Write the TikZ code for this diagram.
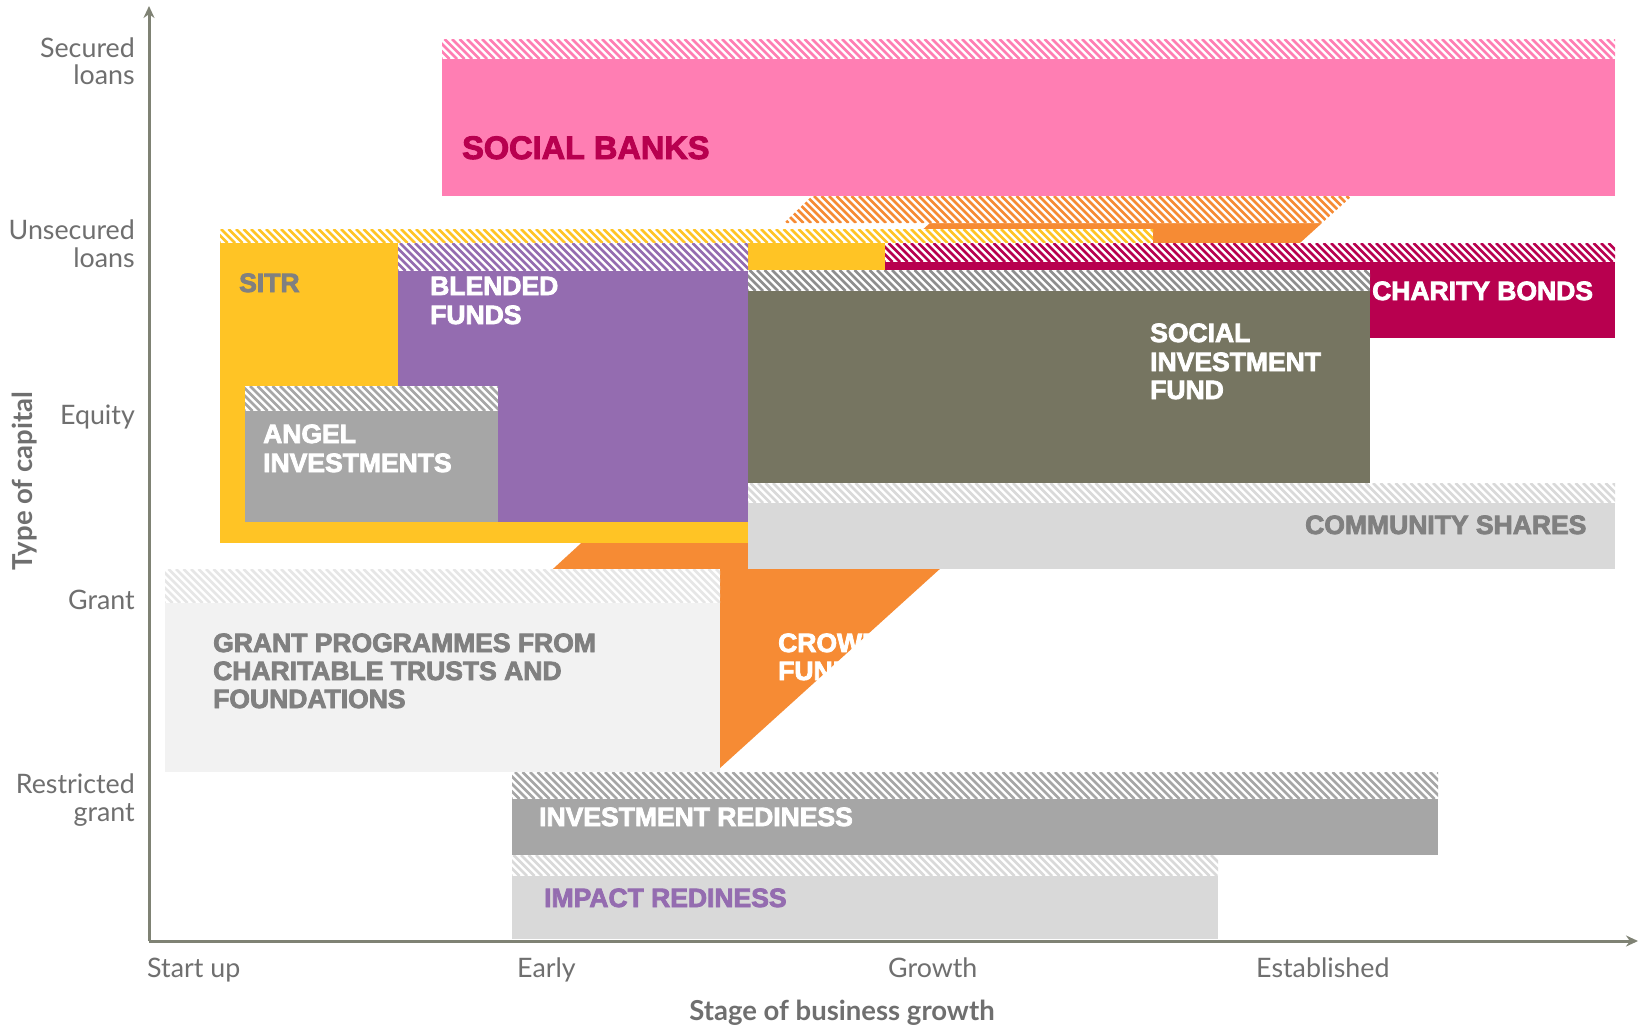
\documentclass[tikz,border=0pt]{standalone}
\usepackage{fontspec}
\setmainfont{Lato}
\newfontfamily\blk{Liberation Sans Bold}[FakeBold=3]
\usetikzlibrary{arrows.meta}
\definecolor{pinkc}{HTML}{FF7EB3}
\definecolor{crim}{HTML}{B8004F}
\definecolor{yel}{HTML}{FFC425}
\definecolor{purp}{HTML}{946CB0}
\definecolor{oliv}{HTML}{767561}
\definecolor{orng}{HTML}{F68B34}
\definecolor{grayA}{HTML}{A6A6A6}
\definecolor{grayD}{HTML}{D9D9D9}
\definecolor{grayF}{HTML}{F2F2F2}
\definecolor{hatchF}{HTML}{E6E6E6}
\definecolor{sifh}{HTML}{8E8E8E}
\definecolor{txtg}{HTML}{808080}
\definecolor{axisc}{HTML}{7F8274}
\definecolor{lblg}{HTML}{6F6F6F}
\newcommand\hatchband[5]{%
  \fill[white] (#1,#2) rectangle (#3,#4);
  \begin{scope}
  \clip (#1,#2) rectangle (#3,#4);
  \pgfmathsetmacro\hs{#1-(#4-#2)}
  \pgfmathsetmacro\hn{#1-(#4-#2)+7.5}
  \foreach \xx in {\hs,\hn,...,#3} \draw[#5, line width=2.8pt] (\xx,#2) -- ++(#4-#2,#4-#2);
  \end{scope}}
\begin{document}
\begin{tikzpicture}[x=1pt,y=-1pt,
  boxlbl/.style={font=\blk\fontsize{26.5}{28}\selectfont, inner sep=0pt, anchor=base west},
  axlbl/.style={font=\fontsize{26.8}{28}\selectfont, text=lblg, inner sep=0pt},
  axtitle/.style={font=\bfseries\fontsize{27.5}{29}\selectfont, text=lblg, inner sep=0pt},
  axline/.style={axisc, line width=3pt, -{Stealth[length=12pt,width=11pt]}}]
\useasboundingbox (0,0) rectangle (1639,1026);
\fill[white] (0,0) rectangle (1639,1026);
% crowdfunding (orange)
\fill[orng] (930,223) -- (1322,223) -- (720,768) -- (336,768) -- cycle;
\fill[white] (812,196) -- (1352,196) -- (1322,223) -- (784,223) -- cycle;
\begin{scope}
\clip (812,196) -- (1352,196) -- (1322,223) -- (784,223) -- cycle;
\foreach \xx in {754,761.5,...,1360} \draw[orng, line width=2.8pt] (\xx,196) -- ++(27,27);
\end{scope}
% SITR
\fill[yel] (220,243) rectangle (885,543);
\hatchband{220}{229}{1153}{243}{yel}
% blended funds
\fill[purp] (398,271) rectangle (748,522);
\hatchband{398}{243}{748}{271}{purp}
% angel investments
\fill[grayA] (245,411) rectangle (498,522);
\hatchband{245}{386}{498}{411}{grayA}
% charity bonds
\hatchband{885}{243}{1615}{262}{crim}
\fill[crim] (885,262) rectangle (1615,338);
% social investment fund
\hatchband{748}{270}{1370}{291}{sifh}
\fill[oliv] (748,291) rectangle (1370,483);
% community shares
\hatchband{748}{483}{1615}{503}{grayD}
\fill[grayD] (748,503) rectangle (1615,569);
% grant programmes
\hatchband{165}{569}{720}{603}{hatchF}
\fill[grayF] (165,603) rectangle (720,772);
% investment readiness
\hatchband{512}{772}{1438}{799}{grayA}
\fill[grayA] (512,799) rectangle (1438,855);
% impact readiness
\hatchband{512}{855}{1218}{876}{grayD}
\fill[grayD] (512,876) rectangle (1218,939);
% social banks
\hatchband{442}{39}{1615}{59}{pinkc}
\fill[pinkc] (442,59) rectangle (1615,196);
% axes
\coordinate (o) at (149,941);
\coordinate (ytop) at (149,6);
\coordinate (xend) at (1638,941);
\draw[axline] (o) -- (ytop);
\draw[axline] (o) -- (xend);
% box labels
\node[boxlbl, text=crim, font=\blk\fontsize{32.5}{34}\selectfont] (sb) at (462,159) {SOCIAL BANKS};
\node[boxlbl, text=txtg] (sitr) at (239,292) {SITR};
\node[boxlbl, text=white] (bf1) at (430,295) {BLENDED};
\node[boxlbl, text=white] (bf2) at (430,324) {FUNDS};
\node[boxlbl, text=white] (ai1) at (263,443) {ANGEL};
\node[boxlbl, text=white] (ai2) at (263,472) {INVESTMENTS};
\node[boxlbl, text=white] (sif1) at (1150,342) {SOCIAL};
\node[boxlbl, text=white] (sif2) at (1150,371) {INVESTMENT};
\node[boxlbl, text=white] (sif3) at (1150,399) {FUND};
\node[boxlbl, text=white] (cb) at (1372,300) {CHARITY BONDS};
\node[boxlbl, text=txtg] (cs) at (1305,534) {COMMUNITY SHARES};
\node[boxlbl, text=txtg] (gp1) at (213,652) {GRANT PROGRAMMES FROM};
\node[boxlbl, text=txtg] (gp2) at (213,680) {CHARITABLE TRUSTS AND};
\node[boxlbl, text=txtg] (gp3) at (213,708) {FOUNDATIONS};
\node[boxlbl, text=white] (cf1) at (778,652) {CROWD};
\node[boxlbl, text=white] (cf2) at (778,680) {FUNDING};
\node[boxlbl, text=white] (ir) at (539,826) {INVESTMENT REDINESS};
\node[boxlbl, text=purp] (imr) at (544,907) {IMPACT REDINESS};
% y axis labels
\node[axlbl, anchor=base east] (y1a) at (135,57) {Secured};
\node[axlbl, anchor=base east] (y1b) at (135,84) {loans};
\node[axlbl, anchor=base east] (y2a) at (135,239) {Unsecured};
\node[axlbl, anchor=base east] (y2b) at (135,267) {loans};
\node[axlbl, anchor=base east] (y3) at (135,424) {Equity};
\node[axlbl, anchor=base east] (y4) at (135,609) {Grant};
\node[axlbl, anchor=base east] (y5a) at (135,793) {Restricted};
\node[axlbl, anchor=base east] (y5b) at (135,821) {grant};
% x axis labels
\node[axlbl, anchor=base west] (x1) at (147,977) {Start up};
\node[axlbl, anchor=base west] (x2) at (517,977) {Early};
\node[axlbl, anchor=base west] (x3) at (888,977) {Growth};
\node[axlbl, anchor=base west] (x4) at (1256,977) {Established};
\node[axtitle, anchor=base] (xt) at (842,1020) {Stage of business growth};
\node[axtitle, anchor=base, rotate=90] (yt) at (32,481) {Type of capital};
\end{tikzpicture}
\end{document}
